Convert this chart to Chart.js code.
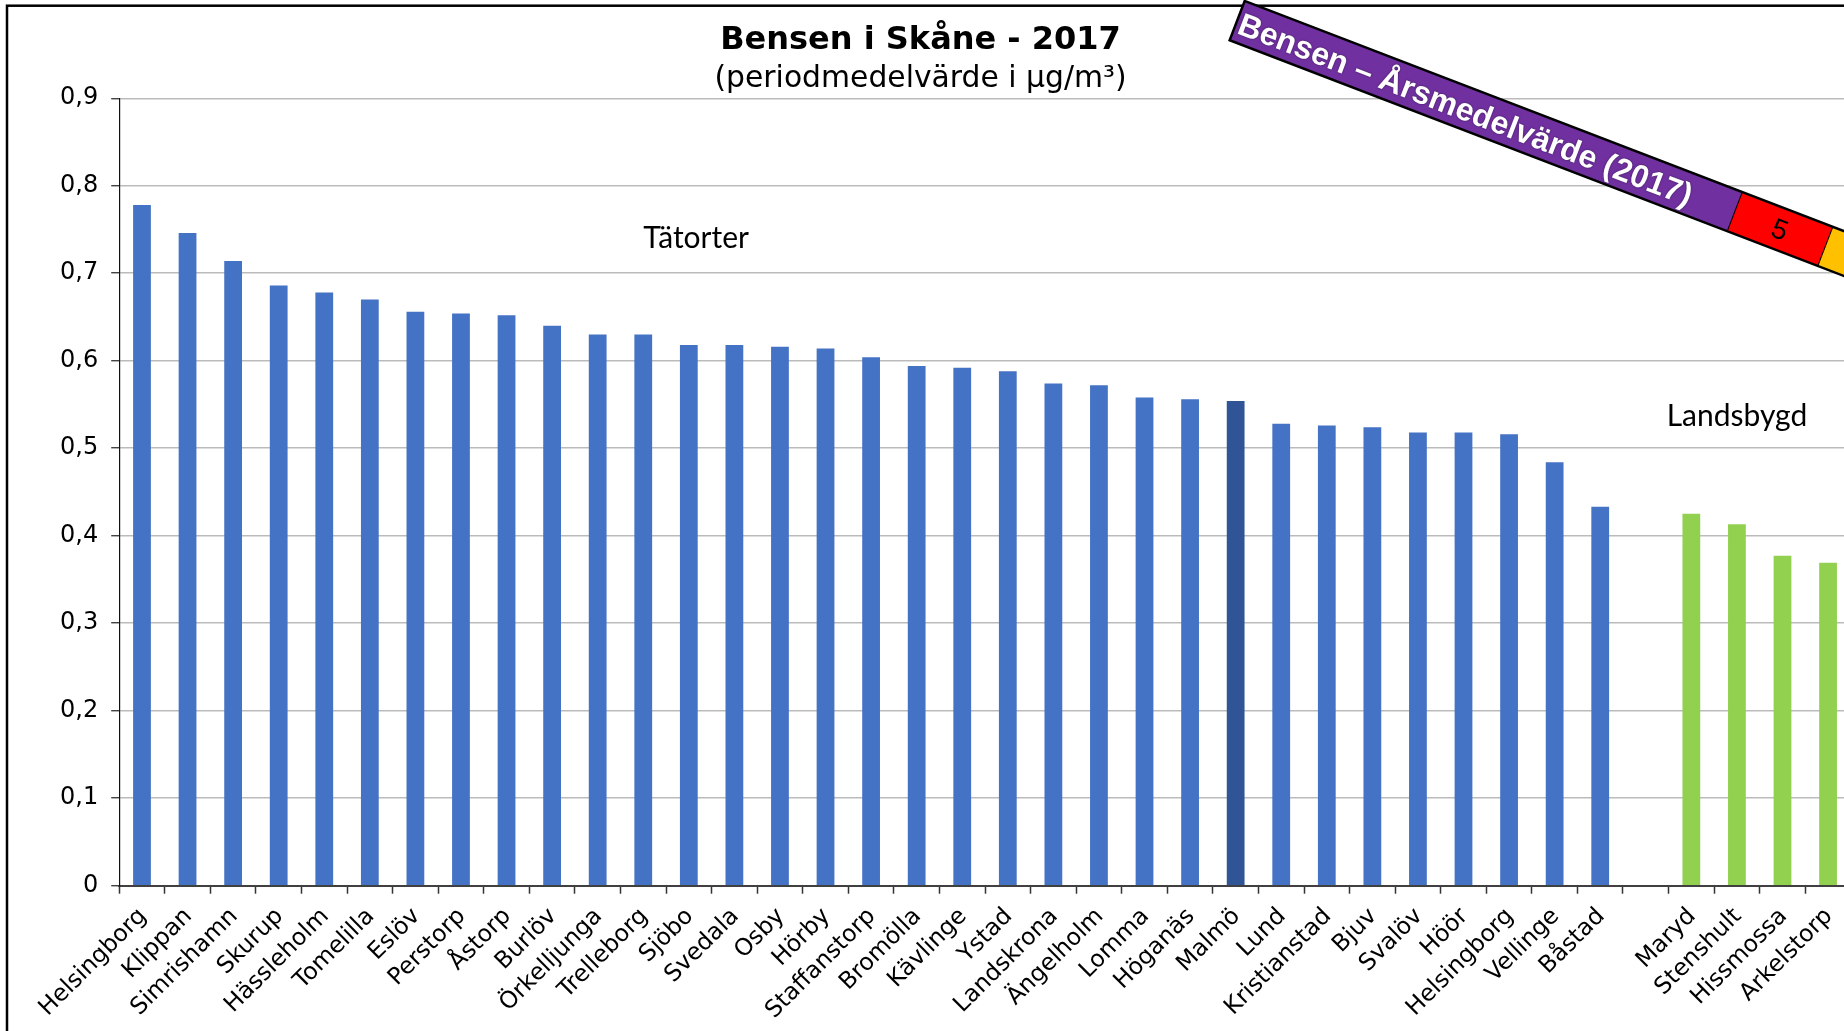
<!DOCTYPE html>
<html>
<head>
<meta charset="utf-8">
<script src="https://cdn.jsdelivr.net/npm/chart.js@4/dist/chart.umd.min.js"></script>
<style>
  html, body { margin: 0; padding: 0; overflow: hidden; background: #fff; }
  #wrap { width: 1857px; height: 1031px; }
</style>
</head>
<body>
<div id="wrap"><canvas id="c" width="1857" height="1031" style="width:1857px;height:1031px"></canvas></div>
<script>
// ---- data ----
const tatorterNames = ['Helsingborg','Klippan','Simrishamn','Skurup','Hässleholm','Tomelilla','Eslöv','Perstorp','Åstorp','Burlöv','Örkelljunga','Trelleborg','Sjöbo','Svedala','Osby','Hörby','Staffanstorp','Bromölla','Kävlinge','Ystad','Landskrona','Ängelholm','Lomma','Höganäs','Malmö','Lund','Kristianstad','Bjuv','Svalöv','Höör','Helsingborg','Vellinge','Båstad'];
const tatorterValues = [0.778,0.746,0.714,0.686,0.678,0.670,0.656,0.654,0.652,0.640,0.630,0.630,0.618,0.618,0.616,0.614,0.604,0.594,0.592,0.588,0.574,0.572,0.558,0.556,0.554,0.528,0.526,0.524,0.518,0.518,0.516,0.484,0.433];
const landsbygdNames = ['Maryd','Stenshult','Hissmossa','Arkelstorp'];
const landsbygdValues = [0.425,0.413,0.377,0.369];
const highlighted = 'Malmö';
const yTickLabels = ['0','0,1','0,2','0,3','0,4','0,5','0,6','0,7','0,8','0,9'];
const titleText = 'Bensen i Skåne - 2017';
const subtitleText = '(periodmedelvärde i µg/m³)';
const groupLabels = ['Tätorter','Landsbygd'];
const bannerText = 'Bensen – Årsmedelvärde (2017)';
const bannerClass = '5';

// ---- derived ----
const categories = [...tatorterNames, '', ...landsbygdNames];
const values = [...tatorterValues, null, ...landsbygdValues];
const barColors = categories.map((c, i) =>
  i < tatorterNames.length ? (c === highlighted ? '#2F5597' : '#4472C4') : '#92D050');

const frame = {
  id: 'frame',
  beforeDraw(chart) {
    const ctx = chart.ctx;
    ctx.save();
    ctx.fillStyle = '#fff';
    ctx.fillRect(0, 0, chart.width, chart.height);
    ctx.strokeStyle = '#000';
    ctx.lineWidth = 2.5;
    ctx.strokeRect(7, 5.7, chart.width + 50, chart.height + 50);
    ctx.restore();
  }
};

const groupText = {
  id: 'groupText',
  afterDatasetsDraw(chart) {
    const ctx = chart.ctx, x = chart.scales.x, y = chart.scales.y;
    ctx.save();
    ctx.font = '30px Lato';
    ctx.fillStyle = '#000';
    ctx.textAlign = 'center';
    ctx.textBaseline = 'alphabetic';
    ctx.fillText(groupLabels[0], x.getPixelForValue(12.16), y.getPixelForValue(0.729));
    ctx.fillText(groupLabels[1], x.getPixelForValue(35.0), y.getPixelForValue(0.525));
    ctx.restore();
  }
};

const banner = {
  id: 'banner',
  afterDraw(chart) {
    const ctx = chart.ctx;
    const h = 42, purpleLen = 533, redLen = 97, yellowLen = 300;
    ctx.save();
    ctx.translate(1244.7, 1);
    ctx.rotate(21 * Math.PI / 180);
    ctx.fillStyle = '#7030A0';
    ctx.fillRect(0, 0, purpleLen, h);
    ctx.fillStyle = '#FF0000';
    ctx.fillRect(purpleLen, 0, redLen, h);
    ctx.fillStyle = '#FFC000';
    ctx.fillRect(purpleLen + redLen, 0, yellowLen, h);
    ctx.strokeStyle = '#000';
    ctx.lineWidth = 1;
    ctx.beginPath();
    ctx.moveTo(purpleLen, 0); ctx.lineTo(purpleLen, h);
    ctx.moveTo(purpleLen + redLen, 0); ctx.lineTo(purpleLen + redLen, h);
    ctx.stroke();
    ctx.lineWidth = 2.5;
    ctx.strokeRect(0, 0, purpleLen + redLen + yellowLen, h);
    ctx.shadowColor = 'rgba(0,0,0,0.55)';
    ctx.shadowBlur = 2;
    ctx.fillStyle = '#fff';
    ctx.font = 'bold 32px "Liberation Sans", Arial, Helvetica, sans-serif';
    ctx.textBaseline = 'alphabetic';
    ctx.textAlign = 'left';
    ctx.fillText(bannerText, 3, 33);
    ctx.shadowColor = 'transparent';
    ctx.fillStyle = '#000';
    ctx.font = '28px "Liberation Sans", Arial, Helvetica, sans-serif';
    ctx.textAlign = 'center';
    ctx.fillText(bannerClass, purpleLen + redLen / 2, 31);
    ctx.restore();
  }
};

function build() {
  new Chart(document.getElementById('c'), {
    type: 'bar',
    data: {
      labels: categories,
      datasets: [{
        data: values,
        backgroundColor: barColors,
        borderWidth: 0,
        barPercentage: 0.39,
        categoryPercentage: 1.0
      }]
    },
    options: {
      responsive: false,
      animation: false,
      layout: { padding: { left: -16, right: 0, top: 0, bottom: 0 } },
      plugins: {
        legend: { display: false },
        tooltip: { enabled: false },
        title: {
          display: true, text: titleText, color: '#000',
          font: { family: 'DejaVu Sans', size: 32, weight: 'bold', lineHeight: 1.2 },
          padding: { top: 21, bottom: 0 }
        },
        subtitle: {
          display: true, text: subtitleText, color: '#000',
          font: { family: 'DejaVu Sans', size: 29.8, weight: 'normal', lineHeight: 1.2 },
          padding: { top: 1.5, bottom: 1.6 }
        }
      },
      scales: {
        x: {
          offset: true,
          grid: { offset: true, drawOnChartArea: false, drawTicks: true, tickLength: 8, tickColor: '#333', tickWidth: 1.5 },
          border: { display: true, color: '#404040', width: 2 },
          ticks: {
            autoSkip: false, minRotation: 45, maxRotation: 45,
            color: '#000', padding: 9, labelOffset: 1,
            font: { family: 'DejaVu Sans', size: 23.5 }
          },
          afterFit(s) { s.height = 1031 - 885.7; }
        },
        y: {
          min: 0, max: 0.9,
          grid: { color: '#bbbbbb', lineWidth: 1.5, tickColor: '#222', tickLength: 8, tickWidth: 1.2 },
          border: { display: true, color: '#111', width: 1.2 },
          ticks: {
            stepSize: 0.1, color: '#000', padding: 13,
            font: { family: 'DejaVu Sans', size: 24 },
            callback: (v) => yTickLabels[Math.round(v * 10)]
          },
          afterFit(s) { s.width = 135.2; }
        }
      }
    },
    plugins: [frame, groupText, banner]
  });
}

Promise.all([
  document.fonts.load('bold 32px "Liberation Sans"'),
  document.fonts.load('28px "Liberation Sans"'),
  document.fonts.load('30px Lato'),
  document.fonts.load('24px "DejaVu Sans"'),
  document.fonts.load('bold 32px "DejaVu Sans"')
]).then(build, build);
</script>
</body>
</html>
